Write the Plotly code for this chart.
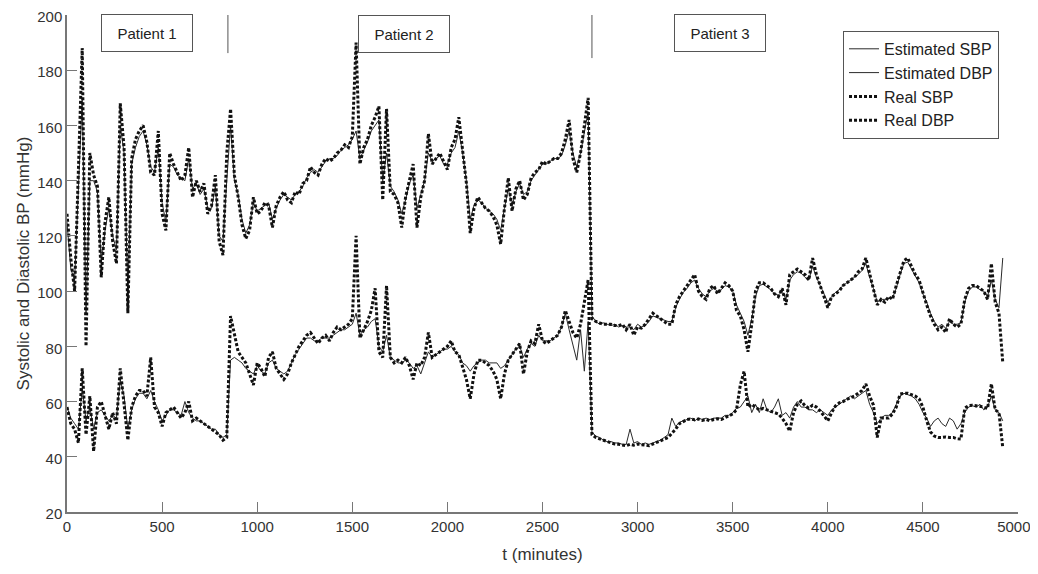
import plotly.graph_objects as go

# time grid (minutes), sampled every 20 min
t_minutes = list(range(0, 4921, 20))

# ---- Real SBP ----
real_sbp_p1 = [128, 112, 100, 140, 188, 80, 150, 142, 138, 105,
               125, 134, 118, 110, 168, 152, 92, 148, 155, 158,
               160, 154, 143, 142, 158, 128, 122, 150, 146, 143,
               140, 142, 152, 134, 140, 136, 139, 128, 131, 142,
               118, 113, 150]
real_sbp_p2 = [166, 142, 134, 124, 119, 122, 134, 128, 129, 132,
               131, 123, 131, 134, 136, 133, 132, 136, 135, 139,
               140, 145, 143, 142, 146, 148, 147, 148, 150, 151,
               153, 152, 156, 190, 146, 152, 155, 160, 163, 167,
               133, 166, 136, 135, 132, 123, 134, 140, 146, 123,
               134, 140, 157, 146, 148, 150, 147, 144, 152, 155,
               163, 150, 139, 121, 130, 134, 132, 130, 129, 127,
               124, 117, 130, 141, 129, 137, 140, 133, 135, 141,
               143, 144, 147, 146, 147, 148, 148, 150, 155, 162,
               148, 143, 150, 160, 170]
real_sbp_p3 = [90, 89, 88.5, 88, 88, 88, 87.5, 87.5, 88, 86,
               88, 84, 87, 86.6, 88, 90, 92, 91, 90, 89,
               88, 88, 95, 98, 100, 102, 104, 106, 100, 98,
               97, 101, 102, 99, 101, 103, 102, 100, 93, 91,
               86, 78, 88, 100, 103, 103, 102, 101, 99, 98,
               101, 95, 106, 107, 108, 107, 106, 104, 112, 106,
               102, 98, 94, 98, 99, 100, 102, 103, 104, 105,
               107, 108, 112, 106, 100, 95, 97, 96, 98, 97,
               102, 107, 111, 112, 109, 106, 104, 99, 95, 91,
               88, 86, 87, 85, 90, 88, 87, 88, 97, 101,
               102, 102, 101, 100, 97, 110, 96, 92, 74]

# ---- Real DBP ----
real_dbp_p1 = [58, 52, 50, 45, 72, 48, 62, 42, 58, 60,
               55, 50, 56, 52, 72, 60, 46, 58, 62, 64,
               64, 62, 76, 58, 56, 51, 56, 57, 58, 56,
               54, 56, 60, 53, 54, 53, 52, 51, 50, 49,
               48, 46, 47]
real_dbp_p2 = [91, 85, 78, 76, 74, 70, 66, 74, 72, 69,
               76, 78, 72, 70, 68, 70, 74, 77, 80, 82,
               84, 85, 83, 81, 83, 84, 82, 85, 87, 86,
               87, 88, 90, 120, 83, 86, 89, 93, 101, 78,
               76, 102, 76, 74, 75, 74, 76, 73, 68, 74,
               73, 76, 85, 76, 77, 78, 79, 80, 82, 78,
               77, 72, 68, 61, 70, 75, 75, 74, 73, 71,
               68, 61, 70, 75, 77, 79, 81, 70, 78, 82,
               81, 88, 82, 81, 82, 83, 84, 87, 93, 89,
               85, 83, 88, 96, 104]
real_dbp_p3 = [48, 47, 46.5, 46, 45.5, 45, 44.6, 44.5, 44.2, 44,
               44.5, 44.2, 44.6, 44.5, 44.2, 44, 44.6, 45.2, 45.7, 46.3,
               47, 48.5, 50, 52, 52.8, 53.5, 53.7, 53.4, 53.7, 53.2,
               53.5, 53, 53.5, 53.8, 53.5, 54.2, 54.8, 55.5, 57, 66,
               71, 58, 59, 58, 57, 57.5, 57, 56.6, 56, 55.5,
               54, 52, 49.3, 56, 59, 60.2, 58.5, 57.6, 58.7, 58,
               56.6, 55, 53, 56, 58.4, 59.5, 60, 60.8, 61.3, 62,
               63, 64, 66.4, 62, 58.7, 47, 54, 54, 54, 55.5,
               58, 62.7, 63, 63, 62.5, 62, 61, 58, 53, 49,
               47.5, 47, 47, 47.2, 47, 47, 46.5, 46.4, 57.6, 58.5,
               58.7, 58.5, 58.4, 58, 57.5, 66.4, 57, 56, 43.2]

# ---- Estimated SBP ----
est_sbp_p1 = [125, 108, 104, 135, 170, 92, 140, 140, 136, 110,
              122, 130, 120, 115, 160, 150, 100, 146, 152, 156,
              158, 153, 145, 143, 152, 132, 125, 146, 145, 142,
              141, 140, 148, 137, 139, 135, 137, 130, 130, 138,
              120, 118, 140]
est_sbp_p2 = [160, 140, 135, 126, 121, 124, 132, 129, 130, 131,
              132, 126, 130, 133, 135, 134, 133, 135, 136, 138,
              141, 143, 144, 143, 145, 147, 148, 148, 149, 151,
              152, 153, 155, 158, 148, 151, 154, 158, 160, 162,
              140, 150, 138, 136, 133, 128, 133, 139, 142, 130,
              135, 140, 150, 147, 148, 149, 146, 146, 150, 152,
              158, 150, 140, 126, 131, 133, 132, 130, 129, 128,
              126, 122, 130, 137, 131, 136, 139, 135, 136, 140,
              142, 144, 146, 146, 147, 148, 148, 149, 153, 158,
              150, 145, 150, 157, 165]
est_sbp_p3 = [91, 89, 88, 88.5, 88, 87.5, 88, 87, 87.5, 87,
              87, 86, 88, 87, 87.5, 89, 91, 90.5, 90, 89.5,
              89, 89, 94, 97, 99.5, 101, 103, 104, 101, 99,
              98, 100, 101, 100, 100.5, 102, 101.5, 100, 95, 92,
              89, 84, 90, 98, 102, 102.5, 101.5, 100.5, 99, 98.5,
              100, 97, 104, 106, 107, 106.5, 105, 104, 109, 105,
              102, 99, 96, 98, 99.5, 100.5, 102, 103, 104, 105,
              106, 107.5, 110, 105, 101, 96, 97, 97, 97.5, 97.5,
              101, 106, 110, 110.5, 108, 106, 103, 99, 96, 92,
              89, 87, 88, 86.5, 89, 88, 88, 88.5, 96, 100,
              101.5, 101.5, 100.5, 100, 98, 104, 97, 94, 112]

# ---- Estimated DBP ----
est_dbp_p1 = [58, 54, 52, 50, 65, 53, 58, 50, 56, 57,
              55, 53, 55, 54, 68, 62, 50, 57, 61, 63,
              63, 61, 64, 60, 57, 53, 55, 57, 57, 56,
              55, 60, 56, 54, 53, 53, 52, 51, 50, 50,
              48, 47, 48]
est_dbp_p2 = [75, 76, 75, 74, 72, 71, 70, 73, 71, 70,
              74, 75, 72, 71, 70, 71, 74, 77, 79, 81,
              83, 83, 82, 82, 83, 83, 83, 84, 85, 86,
              86, 87, 88, 92, 84, 86, 87, 89, 90, 80,
              78, 84, 76, 75, 74, 74, 75, 74, 72, 73,
              70, 74, 78, 76, 77, 78, 79, 79, 80, 78,
              77, 74, 73, 71, 73, 74, 75, 75, 74, 74,
              74, 72, 73, 75, 77, 79, 80, 76, 79, 81,
              80, 84, 82, 82, 82, 83, 84, 87, 92, 86,
              80, 75, 86, 71, 89]
est_dbp_p3 = [49, 47.5, 47, 46, 45.5, 45.5, 45, 45, 44.5, 44.5,
              50, 45, 45.5, 44.5, 45, 44.5, 45, 45.5, 46, 47,
              48, 54, 51, 52.5, 53, 53.5, 54, 53, 54, 53.5,
              54, 53.5, 54, 54, 54, 55, 55, 56, 57.5, 58,
              60, 62, 56, 59, 56, 61, 57, 56, 58, 61,
              55, 56, 54, 58, 60, 58, 58, 57, 57, 56,
              57, 56, 55, 57, 58, 59, 60, 61, 62, 61,
              62, 63, 64, 59, 56, 52, 54, 55, 55, 56,
              59, 62, 63, 62.5, 62, 61, 59, 56, 54, 51,
              53, 54, 52, 51, 54, 53, 50, 52, 56, 58,
              58.5, 58, 59, 57, 58, 62, 57, 56, 53]

real_sbp = real_sbp_p1 + real_sbp_p2 + real_sbp_p3
real_dbp = real_dbp_p1 + real_dbp_p2 + real_dbp_p3
est_sbp = est_sbp_p1 + est_sbp_p2 + est_sbp_p3
est_dbp = est_dbp_p1 + est_dbp_p2 + est_dbp_p3

x_tick_vals = [0, 500, 1000, 1500, 2000, 2500, 3000, 3500, 4000, 4500, 5000]
x_tick_text = ["0", "500", "1000", "1500", "2000", "2500", "3000", "3500", "4000", "4500",
               "5000\u00a0\u00a0"]
y_tick_vals = [20, 40, 60, 80, 100, 120, 140, 160, 180, 200]

patient_labels = ["Patient 1", "Patient 2", "Patient 3"]
patient_label_x = [421, 1772, 3431]
patient_label_y = [193.5, 193, 193.5]
separator_x = [846, 2760]
separator_bottom = [186.2, 184.4]

FONT = "Arial, Liberation Sans, sans-serif"
fig = go.Figure()
fig.add_trace(go.Scatter(x=t_minutes, y=est_sbp, mode="lines", name="Estimated SBP",
                         line=dict(color="#2a2a2a", width=1)))
fig.add_trace(go.Scatter(x=t_minutes, y=est_dbp, mode="lines", name="Estimated DBP",
                         line=dict(color="#2a2a2a", width=1)))
fig.add_trace(go.Scatter(x=t_minutes, y=real_sbp, mode="lines", name="Real SBP",
                         line=dict(color="#111111", width=3, dash="3px,2px")))
fig.add_trace(go.Scatter(x=t_minutes, y=real_dbp, mode="lines", name="Real DBP",
                         line=dict(color="#111111", width=3, dash="3px,2px")))

for lbl, x, y in zip(patient_labels, patient_label_x, patient_label_y):
    fig.add_annotation(x=x, y=y, xref="x", yref="y", text=lbl, showarrow=False,
                       font=dict(family=FONT, size=15, color="#222"),
                       bordercolor="#555", borderwidth=1, borderpad=4,
                       width=82, height=28, bgcolor="white")

for sx, sb in zip(separator_x, separator_bottom):
    fig.add_shape(type="line", x0=sx, x1=sx, y0=sb, y1=200, xref="x", yref="y",
                  line=dict(color="#555", width=1))

# page has an 8px body margin, so the figure is offset by (8, 8)
fig.update_layout(
    width=1030, height=558,
    margin=dict(l=59, r=20, t=7, b=54, autoexpand=False),
    paper_bgcolor="white", plot_bgcolor="white",
    font=dict(family=FONT, size=15, color="#333"),
    legend=dict(x=0.816, y=0.968, xanchor="left", yanchor="top",
                bgcolor="white", bordercolor="#555", borderwidth=1,
                font=dict(family=FONT, size=16, color="#222"),
                tracegroupgap=0),
    showlegend=True,
)
fig.update_xaxes(range=[0, 5000], tickvals=x_tick_vals, ticktext=x_tick_text,
                 ticks="inside", ticklen=10, tickcolor="#777", showline=True, linecolor="#777",
                 linewidth=1.5, showgrid=False, zeroline=False, mirror=False, automargin=False,
                 ticklabeloverflow="allow",
                 title=dict(text="t (minutes)", font=dict(family=FONT, size=17, color="#333"), standoff=14),
                 tickfont=dict(family=FONT, size=15, color="#333"))
fig.update_yaxes(range=[20, 200], tickvals=y_tick_vals,
                 ticks="inside", ticklen=10, tickcolor="#777", showline=True, linecolor="#777",
                 linewidth=1.5, showgrid=False, zeroline=False, mirror=False, automargin=False,
                 ticklabeloverflow="allow", ticklabelshift=2,
                 title=dict(text="Systolic and Diastolic BP (mmHg)", font=dict(family=FONT, size=17, color="#333"), standoff=3),
                 tickfont=dict(family=FONT, size=15, color="#333"))

fig.write_html("out.html")
